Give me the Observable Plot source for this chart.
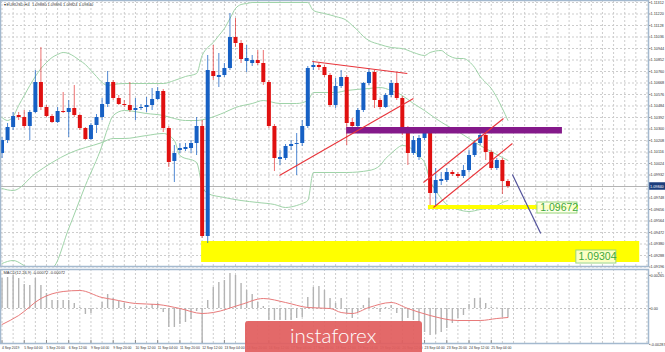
<!DOCTYPE html>
<html><head><meta charset="utf-8">
<script src="https://cdn.jsdelivr.net/npm/d3@7"></script>
<script src="https://cdn.jsdelivr.net/npm/@observablehq/plot@0.6"></script>
<style>
html,body{margin:0;padding:0;background:#fff;}
#wrap{position:relative;width:665px;height:352px;overflow:hidden;background:#fff;font-family:"Liberation Sans",Arial,sans-serif;}
#wrap svg{display:block;}
#logo{position:absolute;left:0;top:0;pointer-events:none;}
</style></head>
<body><div id="wrap"><div id="main"></div><div id="macd"></div>
<svg id="logo" width="665" height="352"><rect x="245" y="321" width="177" height="34" rx="3" fill="#e15e5e" opacity="0.93"></rect><text x="290" y="343" fill="#fff" font-family="Lato, 'Open Sans', sans-serif" font-weight="300" font-size="20.5">instaforex</text></svg>
</div>
<script>
// ---- candle data (EURUSD H4) ----
const openP = [1.10104,1.10208,1.10312,1.10408,1.10392,1.10320,1.10432,1.10672,1.10472,1.10400,
1.10352,1.10440,1.10432,1.10464,1.10408,1.10304,1.10216,1.10328,1.10392,1.10496,
1.10672,1.10544,1.10496,1.10488,1.10448,1.10464,1.10472,1.10488,1.10536,1.10600,
1.10304,1.10040,1.10128,1.10136,1.10144,1.10184,1.10320,1.09440,1.10760,1.10712,
1.10728,1.10784,1.11032,1.10984,1.10840,1.10824,1.10848,1.10824,1.10672,1.10320,
1.10056,1.10064,1.10160,1.10176,1.10184,1.10320,1.10792,1.10808,1.10792,1.10728,
1.10488,1.10640,1.10712,1.10352,1.10320,1.10448,1.10664,1.10752,1.10528,1.10472,
1.10568,1.10664,1.10544,1.10304,1.10104,1.10072,1.10224,1.10272,1.09784,1.09880,
1.09888,1.09952,1.09936,1.09920,1.09968,1.10088,1.10184,1.10248,1.10112,1.09984,
1.10048,1.09880];
const closeP = [1.10208,1.10312,1.10400,1.10392,1.10320,1.10432,1.10672,1.10472,1.10400,1.10352,
1.10440,1.10432,1.10464,1.10408,1.10304,1.10216,1.10328,1.10392,1.10496,1.10672,
1.10544,1.10496,1.10488,1.10448,1.10464,1.10472,1.10488,1.10536,1.10600,1.10304,
1.10032,1.10104,1.10144,1.10152,1.10184,1.10320,1.09440,1.10768,1.10720,1.10728,
1.10784,1.11032,1.10984,1.10856,1.10864,1.10848,1.10824,1.10672,1.10320,1.10064,
1.10072,1.10160,1.10176,1.10184,1.10320,1.10784,1.10808,1.10792,1.10728,1.10488,
1.10640,1.10712,1.10344,1.10320,1.10448,1.10664,1.10752,1.10528,1.10472,1.10568,
1.10664,1.10544,1.10304,1.10104,1.10208,1.10224,1.10272,1.09784,1.09888,1.09896,
1.09952,1.09936,1.09920,1.09968,1.10088,1.10184,1.10248,1.10112,1.09984,1.10048,
1.09880,1.09840];
const highP = [1.10232,1.10344,1.10432,1.10432,1.10448,1.10448,1.10768,1.10952,1.10488,1.10416,
1.10472,1.10592,1.10528,1.10648,1.10416,1.10312,1.10344,1.10416,1.10544,1.10760,
1.10688,1.10568,1.10528,1.10672,1.10544,1.10496,1.10552,1.10624,1.10632,1.10616,
1.10320,1.10168,1.10184,1.10184,1.10208,1.10392,1.10368,1.10888,1.10968,1.10904,
1.10824,1.11224,1.11184,1.11008,1.10968,1.10888,1.10928,1.10928,1.10688,1.10336,
1.10128,1.10176,1.10208,1.10264,1.10368,1.10800,1.10840,1.10824,1.10808,1.10744,
1.10704,1.10768,1.10728,1.10384,1.10464,1.10672,1.10784,1.10768,1.10544,1.10584,
1.10688,1.10752,1.10560,1.10320,1.10240,1.10248,1.10304,1.10288,1.09984,1.09952,
1.09984,1.09968,1.09952,1.10008,1.10128,1.10208,1.10288,1.10288,1.10128,1.10064,
1.10064,1.09896];
const lowP = [1.10064,1.10184,1.10288,1.10368,1.10304,1.10208,1.10424,1.10448,1.10392,1.10344,
1.10344,1.10424,1.10232,1.10392,1.10288,1.10208,1.10208,1.10264,1.10368,1.10472,
1.10528,1.10488,1.10472,1.10432,1.10368,1.10448,1.10432,1.10448,1.10528,1.10272,
1.09992,1.09872,1.10104,1.10120,1.10104,1.10088,1.09424,1.09384,1.10688,1.10632,
1.10712,1.10768,1.10952,1.10824,1.10752,1.10800,1.10808,1.10648,1.10304,1.09960,
1.10008,1.10048,1.10128,1.09928,1.10160,1.10304,1.10768,1.10768,1.10712,1.10472,
1.10464,1.10624,1.10168,1.10288,1.10288,1.10432,1.10648,1.10464,1.10456,1.10464,
1.10552,1.10528,1.10248,1.10008,1.10088,1.10048,1.10208,1.09672,1.09672,1.09848,
1.09872,1.09920,1.09904,1.09904,1.09952,1.10072,1.10168,1.10048,1.09968,1.09968,
1.09776,1.09824];

// ---- Bollinger-type band lines (candle index, price) ----
const bandUpperIdx = [0,1,2,3,4,5,6,7,8,9,10,11,12,13,14,15,16,17,18,19,20,22,26,29,31,33,35,36,37,38,39,40,41,42,43,44,45,55,56,58,60,62,63,64,65,66,68,70,72,74,76,77,79,80,82,83,84,85,86,87,88,89,90,91];
const bandUpper = [1.10392,1.10368,1.10400,1.10488,1.10568,1.10648,1.10720,1.10784,1.10832,1.10872,1.10896,1.10912,1.10904,1.10880,1.10848,1.10816,1.10768,1.10720,1.10672,1.10648,1.10656,1.10664,1.10664,1.10664,1.10688,1.10720,1.10744,1.10888,1.10952,1.10992,1.11048,1.11104,1.11184,1.11264,1.11296,1.11304,1.11312,1.11312,1.11248,1.11224,1.11200,1.11168,1.11128,1.11088,1.11040,1.11008,1.10976,1.10952,1.10944,1.10912,1.10888,1.10912,1.10928,1.10896,1.10864,1.10864,1.10840,1.10792,1.10720,1.10672,1.10624,1.10552,1.10464,1.10368];
const bandMidIdx = [0,2,5,9,12,15,18,19,20,22,26,29,31,33,35,37,40,42,45,47,50,53,55,56,60,62,66,68,70,72,74,76,78,80,82,84,86,88,90,91];
const bandMid = [1.09224,1.09248,1.09192,1.09192,1.09504,1.09848,1.10168,1.10304,1.10408,1.10448,1.10424,1.10408,1.10384,1.10368,1.10368,1.10384,1.10432,1.10472,1.10504,1.10528,1.10504,1.10504,1.10528,1.10592,1.10592,1.10608,1.10624,1.10632,1.10608,1.10568,1.10504,1.10448,1.10384,1.10328,1.10280,1.10224,1.10168,1.10120,1.10072,1.10048];
const bandLowerIdx = [0,2,6,12,18,20,22,26,29,31,32,35,36,37,40,43,46,49,51,53,54,55,56,60,62,66,68,69,70,71,72,73,74,75,76,77,78,79,80,81,82,84,86,88,89,90,91];
const bandLower = [1.09824,1.09808,1.09944,1.10104,1.10192,1.10224,1.10224,1.10248,1.10264,1.10208,1.10088,1.10032,1.09848,1.09784,1.09752,1.09728,1.09712,1.09696,1.09672,1.09688,1.09704,1.09728,1.09952,1.09952,1.09952,1.09968,1.10008,1.10064,1.10104,1.10144,1.10168,1.10160,1.10128,1.10080,1.10032,1.09888,1.09808,1.09744,1.09696,1.09672,1.09656,1.09640,1.09656,1.09672,1.09688,1.09712,1.09728];

// ---- MACD panel ----
const macdHist = [0.00240,0.00248,0.00264,0.00240,0.00192,0.00184,0.00240,0.00184,0.00120,0.00064,
0.00064,0.00064,0.00064,0.00040,0.00008,-0.00048,-0.00040,0.00002,0.00048,0.00112,
0.00080,0.00056,0.00040,0.00016,0.00008,0.00008,0.00016,0.00032,0.00040,-0.00032,
-0.00152,-0.00152,-0.00128,-0.00112,-0.00088,-0.00024,-0.00256,0.00064,0.00168,0.00208,
0.00224,0.00280,0.00264,0.00200,0.00144,0.00112,0.00048,0.00016,-0.00096,-0.00096,
-0.00096,-0.00096,-0.00096,-0.00080,-0.00072,0.00088,0.00168,0.00176,0.00144,0.00080,
0.00040,0.00080,-0.00040,-0.00080,-0.00032,0.00024,0.00080,0.00008,-0.00032,0.00008,
0.00024,-0.00040,-0.00112,-0.00080,-0.00096,-0.00112,-0.00192,-0.00216,-0.00208,-0.00192,
-0.00160,-0.00120,-0.00080,-0.00056,0.00032,0.00080,0.00080,0.00040,0.00008,0.00004,
-0.00072,-0.00072];
const signalIdx = [0,3,7,11,14,18,20,24,28,32,36,38,43,47,51,55,59,61,63,66,70,73,77,82,86,89,91];
const signalVal = [-0.00128,-0.00056,0.00080,0.00136,0.00144,0.00088,0.00072,0.00040,0.00032,0.00000,-0.00040,-0.00032,0.00032,0.00080,0.00048,0.00008,0.00000,-0.00032,-0.00040,0.00008,0.00048,0.00000,-0.00056,-0.00096,-0.00096,-0.00080,-0.00072];

// ---- axes / labels ----
const priceTicks = [1.11312,1.11220,1.11128,1.11036,1.10944,1.10852,1.10760,1.10668,1.10576,1.10484,1.10392,1.10300,1.10208,1.10116,1.10024,1.09932,1.09840,1.09748,1.09656,1.09564,1.09472,1.09380,1.09288,1.09196];
const macdTicks = [0.00265, 0, -0.00287];
const timeIdx = [0,4,8,12,16,20,24,28,32,36,40,44,48,52,56,60,64,68,72,76,80,84,88];
const timeText = ["4 Sep 2019","5 Sep 04:00","5 Sep 20:00","6 Sep 12:00","9 Sep 04:00","9 Sep 20:00","10 Sep 12:00","11 Sep 04:00","11 Sep 20:00","12 Sep 12:00","13 Sep 04:00","13 Sep 20:00","16 Sep 12:00","17 Sep 04:00","17 Sep 20:00","18 Sep 12:00","19 Sep 04:00","19 Sep 20:00","20 Sep 12:00","23 Sep 04:00","23 Sep 20:00","24 Sep 12:00","25 Sep 04:00"];
const symbolInfo = "\u25BE EURUSD,H4  1.09880 1.09896 1.09824 1.09840";
const macdInfo = "MACD(12,26,9) -0.00072 -0.00072";
const currentPrice = 1.09840;

// ---- annotations (candle index, price) ----
const trendX1 = [55.8, 49.9, 75.8, 77.6];
const trendY1 = [1.10840, 1.09928, 1.09872, 1.09672];
const trendX2 = [72.9, 74.0, 90.2, 91.8];
const trendY2 = [1.10744, 1.10544, 1.10384, 1.10184];
const arrowSeg = [91.8, 1.09936, 96.9, 1.09464];
const purpleZone = [62.0, 100.8, 1.10260, 1.10312];
const yellowLevel = [76.7, 103.7, 1.09656, 1.09688];
const yellowZone = [35.9, 114.7, 1.09232, 1.09400];
const levelLabels = ["1.09672", "1.09304"];
const labelBoxX1 = [96.3, 103.3];
const labelBoxX2 = [103.5, 110.5];
const labelBoxY1 = [1.09624, 1.09224];
const labelBoxY2 = [1.09712, 1.09328];
const labelTextX = [96.8, 103.7];
const labelTextY = [1.09668, 1.09276];

// ---- build ----
const xDomain = [-0.27, 116.28];
const candles = openP.map((o, i) => ({i, open: o, close: closeP[i], high: highP[i], low: lowP[i]}));
const up = candles.filter(d => d.close >= d.open);
const down = candles.filter(d => d.close < d.open);
const pts = (ix, vs) => ix.map((i, k) => ({i, v: vs[k]}));
const gridIdx = d3.range(0, 117, 2);
const segs = trendX1.map((x, k) => ({x1: x, y1: trendY1[k], x2: trendX2[k], y2: trendY2[k]}));
const labels = levelLabels.map((t, k) => ({t, bx1: labelBoxX1[k], bx2: labelBoxX2[k], by1: labelBoxY1[k], by2: labelBoxY2[k], tx: labelTextX[k], ty: labelTextY[k]}));
const BLUE = "#1660c4", RED = "#e01010", GREEN = "#9fd3a8", GRID = "#cdcdcd", FRAME = "#a3b9cf";
const font = "Liberation Sans, Arial, sans-serif";

const main = Plot.plot({
  width: 665, height: 268,
  marginLeft: 0, marginRight: 17, marginTop: 0, marginBottom: 2,
  x: {domain: xDomain, axis: null},
  y: {domain: [1.09200, 1.11328], axis: null},
  style: {background: "transparent", fontFamily: font, overflow: "visible"},
  marks: [
    Plot.ruleY(priceTicks, {stroke: GRID, strokeDasharray: "2,2"}),
    Plot.ruleX(gridIdx, {stroke: GRID, strokeDasharray: "2,2"}),
    Plot.rect([yellowZone], {x1: d => d[0], x2: d => d[1], y1: d => d[2], y2: d => d[3], fill: "#ffff00"}),
    Plot.ruleY([currentPrice], {stroke: "#b4b4b4", strokeWidth: 1}),
    Plot.line(pts(bandUpperIdx, bandUpper), {x: "i", y: "v", stroke: GREEN, strokeWidth: 1, curve: "monotone-x", clip: true}),
    Plot.line(pts(bandMidIdx, bandMid), {x: "i", y: "v", stroke: GREEN, strokeWidth: 1, curve: "monotone-x", clip: true}),
    Plot.line(pts(bandLowerIdx, bandLower), {x: "i", y: "v", stroke: GREEN, strokeWidth: 1, curve: "monotone-x", clip: true}),
    Plot.ruleX(up, {x: "i", y1: "low", y2: "high", stroke: BLUE, strokeWidth: 1, strokeOpacity: 0.75}),
    Plot.ruleX(down, {x: "i", y1: "low", y2: "high", stroke: RED, strokeWidth: 1, strokeOpacity: 0.6}),
    Plot.ruleX(up, {x: "i", y1: "open", y2: "close", stroke: BLUE, strokeWidth: 4}),
    Plot.ruleX(down, {x: "i", y1: "open", y2: "close", stroke: RED, strokeWidth: 4}),
    Plot.rect([purpleZone], {x1: d => d[0], x2: d => d[1], y1: d => d[2], y2: d => d[3], fill: "#84198a"}),
    Plot.rect([yellowLevel], {x1: d => d[0], x2: d => d[1], y1: d => d[2], y2: d => d[3], fill: "#ffff00"}),
    Plot.link(segs, {x1: "x1", y1: "y1", x2: "x2", y2: "y2", stroke: "#e8343a", strokeWidth: 1.1}),
    Plot.link([arrowSeg], {x1: d => d[0], y1: d => d[1], x2: d => d[2], y2: d => d[3], stroke: "#52529a", strokeWidth: 1.2}),
    Plot.rect(labels, {x1: "bx1", x2: "bx2", y1: "by1", y2: "by2", fill: "#fbffe6", fillOpacity: 0.85, stroke: "#9ad67c", strokeWidth: 1}),
    Plot.text(labels, {x: "tx", y: "ty", text: "t", textAnchor: "start", fill: "#3da83a", fontSize: 10.5}),
    Plot.axisY({ticks: priceTicks, anchor: "right", tickFormat: d => d.toFixed(5), fontSize: 3.8, tickSize: 1.5, tickPadding: 0.5, stroke: "#888", fill: "#333"}),
    Plot.rect([currentPrice], {x1: 116.35, x2: 119.6, y1: d => d - 0.00030, y2: d => d + 0.00030, fill: "#1c3e7c"}),
    Plot.text([currentPrice], {x: 116.55, y: d => d, text: d => d.toFixed(5), textAnchor: "start", fill: "#fff", fontSize: 3.8}),
    Plot.text([symbolInfo], {frameAnchor: "top-left", text: d => d, dx: 3, dy: 3, fontSize: 4, fill: "#333"}),
    Plot.frame({stroke: FRAME, strokeWidth: 1.5})
  ]
});
document.getElementById("main").appendChild(main);

const macd = Plot.plot({
  width: 665, height: 84,
  marginLeft: 0, marginRight: 17, marginTop: 1, marginBottom: 9,
  x: {domain: xDomain, axis: null},
  y: {domain: [-0.0028, 0.00312], axis: null},
  style: {background: "transparent", fontFamily: font, overflow: "visible"},
  marks: [
    Plot.ruleX(gridIdx, {stroke: GRID, strokeDasharray: "2,2"}),
    Plot.ruleY([0], {stroke: "#c4c4c4", strokeDasharray: "2,2"}),
    Plot.ruleX(macdHist.map((v, i) => ({i, v})), {x: "i", y1: 0, y2: "v", stroke: "#b3b3b3", strokeWidth: 1.4}),
    Plot.line(pts(signalIdx, signalVal), {x: "i", y: "v", stroke: "#e87a7a", strokeWidth: 1, curve: "monotone-x"}),
    Plot.text([macdInfo], {frameAnchor: "top-left", text: d => d, dx: 3, dy: 2, fontSize: 4, fill: "#333"}),
    Plot.ruleX(timeIdx, {x: d => d, y1: -0.0028, y2: -0.00255, stroke: "#888"}),
    Plot.text(timeIdx.map((i, k) => ({i, t: timeText[k]})), {x: "i", y: -0.0028, text: "t", dy: 4, textAnchor: "start", fontSize: 3.4, fill: "#333"}),
    Plot.axisY({ticks: macdTicks, anchor: "right", tickFormat: d => d === 0 ? "0.00" : d.toFixed(5), fontSize: 3.8, tickSize: 1.5, tickPadding: 0.5, stroke: "#888", fill: "#333"}),
    Plot.frame({stroke: FRAME, strokeWidth: 1.5})
  ]
});
document.getElementById("macd").appendChild(macd);
</script></body></html>
